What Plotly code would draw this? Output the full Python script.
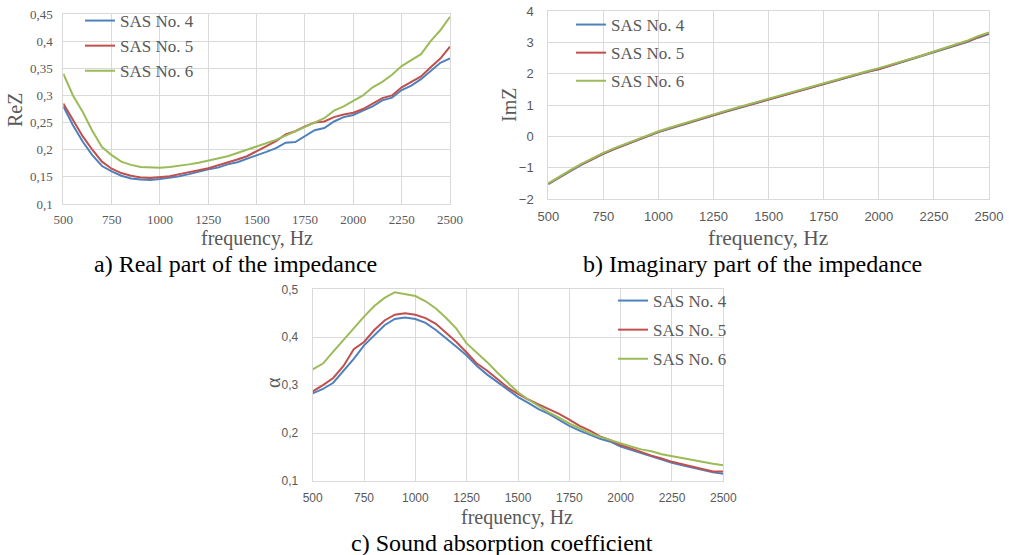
import plotly.graph_objects as go

# ---------------- data ----------------
freq = list(range(500, 2501, 50))

rez_sas4 = [0.280, 0.245, 0.215, 0.190, 0.170, 0.160, 0.152, 0.147, 0.145, 0.144,
            0.146, 0.148, 0.151, 0.155, 0.160, 0.164, 0.167, 0.173, 0.177, 0.183,
            0.190, 0.196, 0.203, 0.213, 0.214, 0.225, 0.236, 0.240, 0.252, 0.260,
            0.264, 0.272, 0.280, 0.291, 0.296, 0.310, 0.318, 0.330, 0.345, 0.360,
            0.368]
rez_sas5 = [0.285, 0.255, 0.225, 0.200, 0.178, 0.165, 0.157, 0.152, 0.149, 0.148,
            0.149, 0.151, 0.155, 0.158, 0.162, 0.166, 0.171, 0.176, 0.182, 0.188,
            0.197, 0.206, 0.216, 0.228, 0.234, 0.243, 0.250, 0.252, 0.260, 0.265,
            0.268, 0.275, 0.285, 0.295, 0.300, 0.315, 0.325, 0.335, 0.352, 0.368,
            0.390]
rez_sas6 = [0.340, 0.300, 0.270, 0.235, 0.205, 0.190, 0.178, 0.172, 0.168, 0.167,
            0.167, 0.168, 0.170, 0.173, 0.176, 0.180, 0.184, 0.188, 0.194, 0.200,
            0.205, 0.211, 0.218, 0.226, 0.234, 0.242, 0.250, 0.258, 0.272, 0.280,
            0.290, 0.300, 0.315, 0.325, 0.338, 0.354, 0.365, 0.376, 0.400, 0.420,
            0.445]

imz_sas4 = [-1.52, -1.30, -1.10, -0.90, -0.72, -0.55, -0.40, -0.26, -0.13, 0.01,
            0.14, 0.25, 0.36, 0.47, 0.58, 0.68, 0.78, 0.88, 0.98, 1.08,
            1.18, 1.28, 1.38, 1.48, 1.57, 1.67, 1.77, 1.86, 1.96, 2.06,
            2.14, 2.25, 2.36, 2.46, 2.56, 2.68, 2.79, 2.89, 3.01, 3.15,
            3.27]
imz_sas5 = [-1.51, -1.29, -1.09, -0.89, -0.71, -0.54, -0.39, -0.25, -0.12, 0.02,
            0.15, 0.26, 0.37, 0.48, 0.59, 0.69, 0.79, 0.89, 0.99, 1.09,
            1.19, 1.29, 1.39, 1.49, 1.58, 1.68, 1.78, 1.87, 1.97, 2.07,
            2.15, 2.26, 2.37, 2.47, 2.57, 2.69, 2.80, 2.91, 3.03, 3.17,
            3.29]
imz_sas6 = [-1.49, -1.27, -1.07, -0.87, -0.69, -0.52, -0.37, -0.23, -0.10, 0.04,
            0.17, 0.28, 0.39, 0.50, 0.61, 0.71, 0.81, 0.91, 1.01, 1.11,
            1.21, 1.31, 1.41, 1.51, 1.60, 1.70, 1.80, 1.89, 1.99, 2.09,
            2.18, 2.28, 2.39, 2.49, 2.59, 2.71, 2.82, 2.93, 3.05, 3.20,
            3.32]

alpha_sas4 = [0.283, 0.292, 0.305, 0.330, 0.355, 0.383, 0.405, 0.425, 0.438, 0.441,
              0.438, 0.430, 0.415, 0.398, 0.380, 0.362, 0.340, 0.322, 0.306, 0.290,
              0.275, 0.263, 0.250, 0.240, 0.228, 0.215, 0.205, 0.197, 0.188, 0.182,
              0.172, 0.165, 0.158, 0.152, 0.145, 0.138, 0.133, 0.128, 0.124, 0.118,
              0.115]
alpha_sas5 = [0.287, 0.300, 0.315, 0.340, 0.375, 0.390, 0.415, 0.435, 0.447, 0.450,
              0.447, 0.440, 0.428, 0.410, 0.390, 0.368, 0.345, 0.330, 0.312, 0.295,
              0.282, 0.270, 0.260, 0.250, 0.240, 0.228, 0.215, 0.205, 0.193, 0.185,
              0.175, 0.168, 0.160, 0.153, 0.147, 0.140, 0.135, 0.130, 0.126, 0.120,
              0.120]
alpha_sas6 = [0.333, 0.345, 0.370, 0.395, 0.420, 0.443, 0.465, 0.482, 0.494, 0.490,
              0.486, 0.475, 0.460, 0.440, 0.418, 0.387, 0.368, 0.348, 0.326, 0.305,
              0.285, 0.270, 0.256, 0.243, 0.232, 0.220, 0.210, 0.200, 0.192, 0.185,
              0.178, 0.172, 0.166, 0.162, 0.156, 0.152, 0.147, 0.143, 0.139, 0.136,
              0.133]

series_names = ["SAS No. 4", "SAS No. 5", "SAS No. 6"]
series_colors = ["#4F81BD", "#C0504D", "#9BBB59"]

x_ticks = [500, 750, 1000, 1250, 1500, 1750, 2000, 2250, 2500]
rez_ticks = [0.1, 0.15, 0.2, 0.25, 0.3, 0.35, 0.4, 0.45]
rez_ticktext = ["0,1", "0,15", "0,2", "0,25", "0,3", "0,35", "0,4", "0,45"]
imz_ticks = [-2, -1, 0, 1, 2, 3, 4]
alpha_ticks = [0.1, 0.2, 0.3, 0.4, 0.5]
alpha_ticktext = ["0,1", "0,2", "0,3", "0,4", "0,5"]

captions = ["a) Real part of the impedance",
            "b) Imaginary part of the impedance",
            "c) Sound absorption coefficient"]

# ---------------- figure ----------------
W, H = 1014, 555
def px(x):
    return x / W
def py(y):
    return 1 - y / H

GRID = "#D9D9D9"
TXT = "#595959"
SERIF = "Liberation Serif"
SANS = "Liberation Sans"

fig = go.Figure()

panels = [
    ("x", "y", "legend", [rez_sas4, rez_sas5, rez_sas6]),
    ("x2", "y2", "legend2", [imz_sas4, imz_sas5, imz_sas6]),
    ("x3", "y3", "legend3", [alpha_sas4, alpha_sas5, alpha_sas6]),
]
for xa, ya, lg, data in panels:
    for i, (name, col, vals) in enumerate(zip(series_names, series_colors, data)):
        fig.add_trace(go.Scatter(
            x=freq, y=vals, mode="lines", name=name,
            line=dict(color=col, width=2),
            xaxis=xa, yaxis=ya, legend=lg,
            legendgroup=(lg + str(i)) if lg != "legend" else None,
        ))

def xaxis(dom, anchor, font, size, standoff):
    return dict(domain=dom, anchor=anchor, range=[500, 2500], tickvals=x_ticks,
                showgrid=True, gridcolor=GRID, gridwidth=1, zeroline=False,
                showline=True, linecolor=GRID, linewidth=1, mirror=True,
                automargin=False, ticks="", ticklabelstandoff=standoff,
                tickfont=dict(family=font, size=size, color=TXT))

def yaxis(dom, anchor, rng, tv, tt, font, size, standoff):
    d = dict(domain=dom, anchor=anchor, range=rng, tickvals=tv,
             showgrid=True, gridcolor=GRID, gridwidth=1, zeroline=False,
             showline=True, linecolor=GRID, linewidth=1, mirror=True,
             automargin=False, ticks="", ticklabelstandoff=standoff,
             tickfont=dict(family=font, size=size, color=TXT))
    if tt is not None:
        d["ticktext"] = tt
    return d

fig.update_layout(
    template="none",
    width=W, height=H,
    margin=dict(l=0, r=0, t=0, b=0, pad=0, autoexpand=False),
    font=dict(family=SERIF, color=TXT),
    paper_bgcolor="white", plot_bgcolor="white",
    xaxis=xaxis([px(63.3), px(450)], "y", SERIF, 13, 3),
    yaxis=yaxis([py(204), py(14)], "x", [0.1, 0.45], rez_ticks, rez_ticktext, SERIF, 13, 7),
    xaxis2=xaxis([px(548.3), px(989)], "y2", SANS, 13, 5),
    yaxis2=yaxis([py(199.3), py(11)], "x2", [-2, 4], imz_ticks, None, SANS, 13, 11),
    xaxis3=xaxis([px(312.7), px(723.3)], "y3", SANS, 12, 6),
    yaxis3=yaxis([py(481), py(289.3)], "x3", [0.1, 0.5], alpha_ticks, alpha_ticktext, SANS, 12, 11),
    legend=dict(x=px(80), y=py(3), xanchor="left", yanchor="top",
                bgcolor="rgba(0,0,0,0)", font=dict(family=SERIF, size=17, color=TXT),
                itemwidth=30),
    legend2=dict(x=px(571), y=py(7), xanchor="left", yanchor="top",
                 bgcolor="rgba(0,0,0,0)", font=dict(family=SERIF, size=17, color=TXT),
                 tracegroupgap=3, itemwidth=30),
    legend3=dict(x=px(613), y=py(283), xanchor="left", yanchor="top",
                 bgcolor="rgba(0,0,0,0)", font=dict(family=SERIF, size=17, color=TXT),
                 tracegroupgap=4, itemwidth=30),
    showlegend=True,
)

ann = []
def text(x, y, s, size, color, angle=0):
    ann.append(dict(x=px(x), y=py(y), xref="paper", yref="paper", text=s,
                    showarrow=False, xanchor="center", yanchor="middle",
                    textangle=angle, font=dict(family=SERIF, size=size, color=color)))

# axis titles
text(15, 110, "ReZ", 20, TXT, -90)
text(509, 105, "ImZ", 20, TXT, -90)
text(273, 383, "α", 20, TXT, -90)
text(257, 238, "frequency, Hz", 20, TXT)
text(768, 238, "frequency, Hz", 21.5, TXT)
text(517, 517, "frequency, Hz", 20, TXT)
# captions
text(235, 264, captions[0], 24, "black")
text(752, 264, captions[1], 24, "black")
text(502, 543, captions[2], 24, "black")

fig.update_layout(annotations=ann)
fig.write_html("out.html", config={"displayModeBar": False},
               post_script="document.body.style.margin='0px';document.body.style.padding='0px';")
